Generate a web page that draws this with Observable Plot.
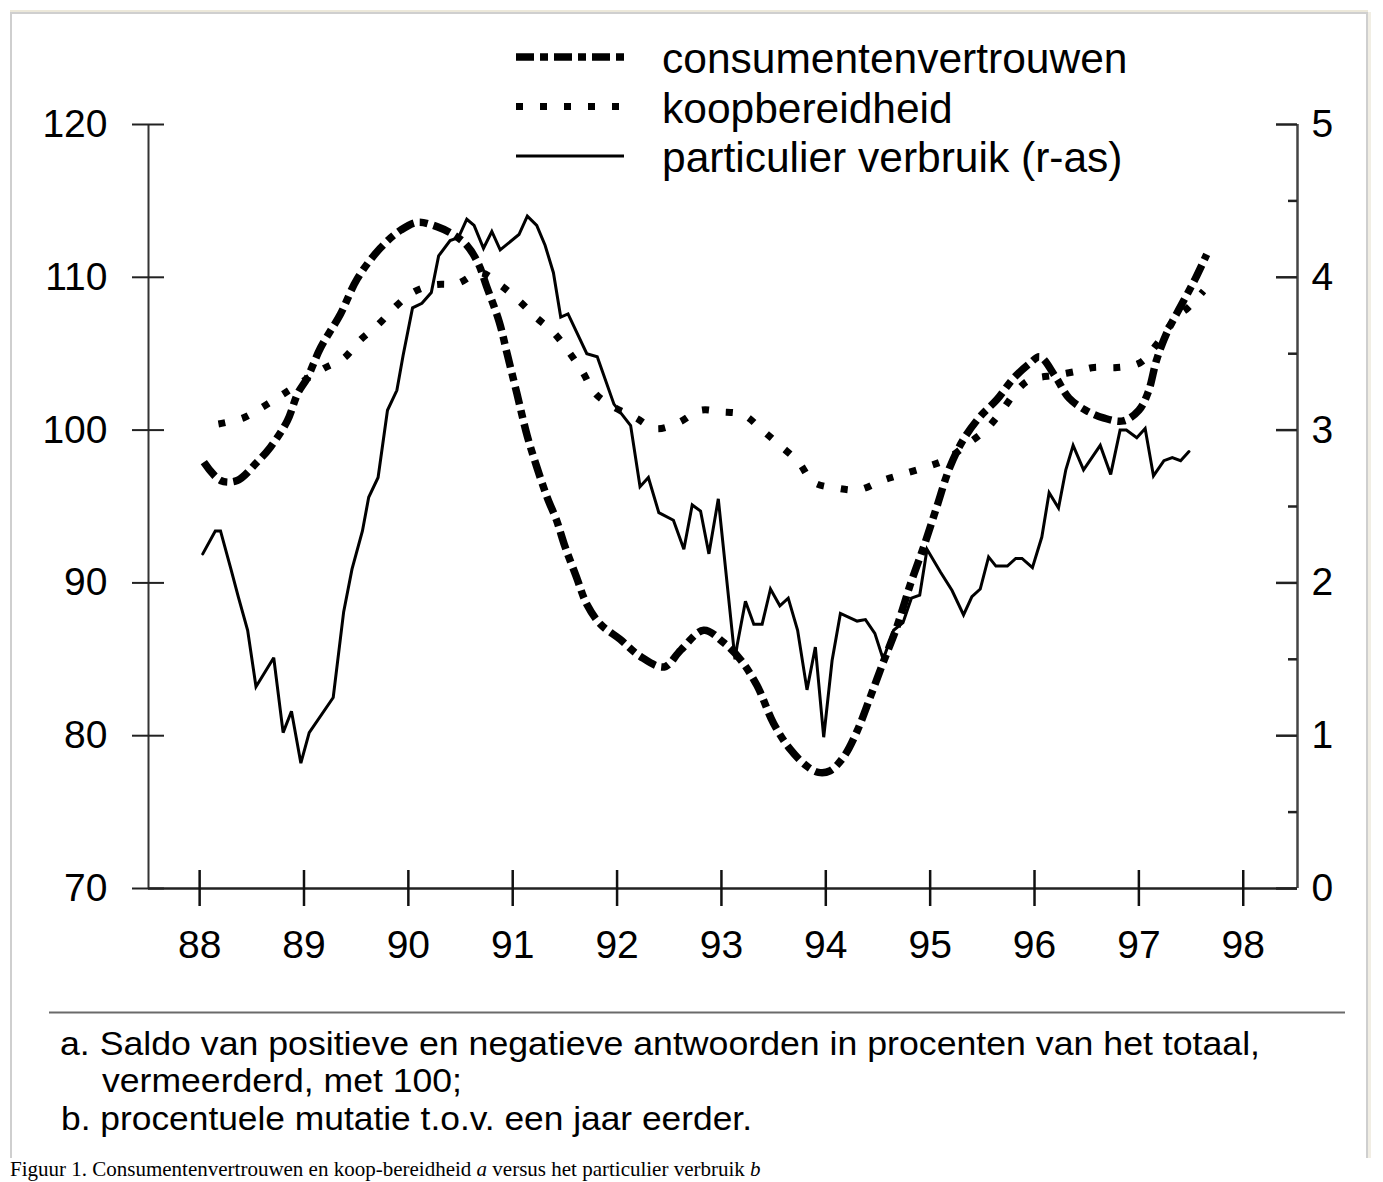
<!DOCTYPE html>
<html>
<head>
<meta charset="utf-8">
<script src="https://cdn.jsdelivr.net/npm/d3@7"></script>
<script src="https://cdn.jsdelivr.net/npm/@observablehq/plot@0.6"></script>
<style>
html, body { margin: 0; padding: 0; background: #fff; }
#page { position: relative; width: 1383px; height: 1182px; overflow: hidden; background: #fff;
        font-family: "Liberation Sans", Arial, Helvetica, sans-serif; color: #000; }
#frame { position: absolute; left: 10px; top: 12px; width: 1354px; height: 1144px;
         border: 2px solid #cfcfcf; border-bottom: none; box-shadow: 0 -2px 0 0 #ece8da, 3px 0 0 0 #f1eee4; }
#chart, #overlay { position: absolute; left: 0; top: 0; }
#caption { position: absolute; left: 10px; top: 1158px; white-space: nowrap;
           font-family: "Liberation Serif", "Times New Roman", serif; font-size: 21px; line-height: 22px; }
</style>
</head>
<body>
<div id="page">
  <div id="frame"></div>
  <div id="chart"></div>
  <svg id="overlay" width="1383" height="1156"></svg>
  <div id="caption">Figuur 1. Consumentenvertrouwen en koop-bereidheid <i>a</i> versus het particulier verbruik <i>b</i></div>
</div>
<script>
// ---------- DATA ----------
// consumentenvertrouwen (linker as)
const jaarVertrouwen = [88.04,88.20,88.36,88.55,88.68,88.84,88.94,89.03,89.16,89.35,89.51,89.73,89.93,90.09,90.28,90.43,90.56,90.67,90.75,90.87,90.95,91.04,91.14,91.23,91.33,91.42,91.50,91.61,91.71,91.84,92.03,92.22,92.45,92.61,92.83,93.02,93.18,93.34,93.50,93.66,93.82,93.93,94.04,94.17,94.30,94.43,94.55,94.68,94.81,94.94,95.06,95.19,95.32,95.48,95.64,95.80,95.96,96.05,96.20,96.33,96.49,96.66,96.85,97.00,97.09,97.17,97.27,97.40,97.54,97.65];
const consumentenvertrouwen = [97.9,96.7,96.7,97.9,98.9,100.6,102.4,103.4,105.4,107.6,109.9,111.9,113.1,113.6,113.3,112.8,112.1,110.9,109.4,107.1,104.9,102.4,99.6,97.6,95.6,94.1,92.4,90.4,88.6,87.3,86.3,85.2,84.5,85.6,86.9,86.1,85.0,83.3,80.8,79.1,78.0,77.6,77.7,78.6,80.3,82.6,84.8,87.1,89.9,92.4,94.9,97.6,99.4,100.9,102.0,103.4,104.4,104.8,103.5,102.1,101.3,100.8,100.6,101.3,102.5,104.6,106.4,108.1,109.9,111.5];

// koopbereidheid (linker as)
const jaarKoop = [88.18,88.42,88.60,88.81,89.18,89.38,89.54,89.71,89.88,90.04,90.24,90.47,90.69,90.88,91.07,91.22,91.39,91.54,91.67,91.79,91.97,92.18,92.37,92.59,92.80,92.99,93.21,93.39,93.56,93.74,93.88,94.11,94.32,94.54,94.73,94.97,95.16,95.34,95.53,95.69,95.82,95.93,96.01,96.21,96.44,96.57,96.79,97.01,97.17,97.36,97.47,97.62];
const koopbereidheid = [100.4,100.8,101.5,102.4,104.0,104.7,105.9,106.9,108.1,109.0,109.5,109.6,110.3,109.5,108.4,107.4,106.4,105.1,103.8,102.4,101.5,100.8,100.1,100.5,101.3,101.2,101.0,100.0,99.0,97.9,96.6,96.2,96.1,96.7,97.1,97.6,98.1,99.0,100.0,101.3,102.5,103.2,103.4,103.6,103.9,104.1,104.1,104.4,105.6,107.4,108.0,109.1];

// particulier verbruik, % mutatie (rechter as)
const jaarVerbruik = [88.03,88.15,88.20,88.30,88.37,88.46,88.54,88.71,88.80,88.88,88.97,89.05,89.28,89.38,89.46,89.56,89.62,89.71,89.80,89.89,89.95,90.04,90.13,90.22,90.29,90.40,90.48,90.56,90.63,90.72,90.80,90.88,91.06,91.14,91.23,91.31,91.39,91.46,91.53,91.71,91.81,91.97,92.13,92.22,92.30,92.40,92.54,92.64,92.72,92.80,92.88,92.97,93.13,93.15,93.23,93.31,93.39,93.47,93.56,93.64,93.73,93.82,93.90,93.98,94.06,94.14,94.30,94.38,94.47,94.55,94.65,94.74,94.82,94.90,94.97,95.10,95.21,95.32,95.40,95.48,95.56,95.63,95.74,95.82,95.88,95.98,96.07,96.14,96.23,96.30,96.37,96.47,96.63,96.73,96.82,96.88,96.98,97.06,97.14,97.24,97.32,97.40,97.48];
const particulierVerbruik = [2.19,2.34,2.34,2.09,1.91,1.69,1.32,1.51,1.02,1.16,0.82,1.02,1.25,1.81,2.09,2.34,2.56,2.69,3.13,3.26,3.49,3.80,3.83,3.90,4.14,4.24,4.26,4.38,4.34,4.19,4.30,4.18,4.28,4.40,4.34,4.21,4.03,3.74,3.76,3.50,3.48,3.17,3.03,2.63,2.69,2.46,2.41,2.22,2.51,2.47,2.19,2.55,1.50,1.59,1.88,1.73,1.73,1.96,1.85,1.90,1.69,1.30,1.58,0.99,1.49,1.80,1.75,1.76,1.67,1.50,1.69,1.74,1.90,1.92,2.22,2.07,1.95,1.79,1.91,1.96,2.17,2.11,2.11,2.16,2.16,2.10,2.30,2.59,2.49,2.74,2.90,2.74,2.90,2.71,3.00,3.00,2.95,3.01,2.70,2.80,2.82,2.80,2.86];

// axes
const xTicks = [88, 89, 90, 91, 92, 93, 94, 95, 96, 97, 98];
const yTicksLinks = [70, 80, 90, 100, 110, 120];
const yTicksRechts = [0, 1, 2, 3, 4, 5];
const yMinorRechts = [0.5, 1.5, 2.5, 3.5, 4.5];

// texts
const legendNamen = ["consumentenvertrouwen", "koopbereidheid", "particulier verbruik (r-as)"];
const voetnoten = [
  "a. Saldo van positieve en negatieve antwoorden in procenten van het totaal,",
  "vermeerderd, met 100;",
  "b. procentuele mutatie t.o.v. een jaar eerder."
];

// ---------- STYLES ----------
const stijlen = [
  {strokeWidth: 7.5, dash: "18,6,8,6"},
  {strokeWidth: 7, dash: "7,17"},
  {strokeWidth: 3, dash: null}
];
const fontFam = '"Liberation Sans", Arial, Helvetica, sans-serif';

// right axis 0..5 maps onto left axis 70..120
const rechtsNaarLinks = r => 70 + 10 * r;

const vertrouwenData = d3.zip(jaarVertrouwen, consumentenvertrouwen).map(([t, v]) => ({t, v}));
const koopData = d3.zip(jaarKoop, koopbereidheid).map(([t, v]) => ({t, v}));
const verbruikData = d3.zip(jaarVerbruik, particulierVerbruik).map(([t, r]) => ({t, v: rechtsNaarLinks(r)}));

const xDomain = [87.51, 98.52];
const yDomain = [70, 120];

const chart = Plot.plot({
  width: 1383,
  height: 990,
  marginTop: 124,
  marginBottom: 102,
  marginLeft: 148,
  marginRight: 86,
  x: {domain: xDomain, axis: null},
  y: {domain: yDomain, axis: null},
  style: {fontFamily: fontFam, fontSize: "39px", color: "#000", background: "transparent", overflow: "visible"},
  marks: [
    // axis lines
    Plot.ruleY([yDomain[0]], {stroke: "#222", strokeWidth: 2.5}),
    Plot.ruleX([xDomain[0]], {y1: yDomain[0], y2: yDomain[1], stroke: "#333", strokeWidth: 2}),
    Plot.ruleX([xDomain[1]], {y1: yDomain[0], y2: yDomain[1], stroke: "#444", strokeWidth: 2.5}),
    // x axis ticks (crossing the axis) and labels
    Plot.ruleX(xTicks, {x: d => d, y1: yDomain[0], y2: yDomain[0], insetTop: -18, insetBottom: -18, stroke: "#111", strokeWidth: 2.5}),
    Plot.text(xTicks, {x: d => d, y: yDomain[0], dy: 57, text: d => String(d), fontSize: 39, fill: "#000"}),
    // left axis (ticks crossing the axis)
    Plot.ruleY(yTicksLinks, {y: d => d, x1: xDomain[0], x2: xDomain[0], insetLeft: -16, insetRight: -16, stroke: "#222", strokeWidth: 2}),
    Plot.text(yTicksLinks, {x: xDomain[0], y: d => d, dx: -41, textAnchor: "end", text: d => String(d), fontSize: 39, fill: "#000"}),
    // right axis (inward ticks)
    Plot.ruleY(yTicksRechts, {y: rechtsNaarLinks, x1: xDomain[1], x2: xDomain[1], insetLeft: -21, insetRight: 0, stroke: "#222", strokeWidth: 2.5}),
    Plot.ruleY(yMinorRechts, {y: rechtsNaarLinks, x1: xDomain[1], x2: xDomain[1], insetLeft: -9, insetRight: 0, stroke: "#222", strokeWidth: 2.5}),
    Plot.text(yTicksRechts, {x: xDomain[1], y: rechtsNaarLinks, dx: 14, textAnchor: "start", text: d => String(d), fontSize: 39, fill: "#000"}),
    // series
    Plot.line(verbruikData, {x: "t", y: "v", stroke: "#000", strokeWidth: stijlen[2].strokeWidth, strokeLinejoin: "miter", strokeMiterlimit: 3}),
    Plot.line(koopData, {x: "t", y: "v", stroke: "#000", strokeWidth: stijlen[1].strokeWidth, strokeDasharray: stijlen[1].dash, strokeLinecap: "butt", curve: "catmull-rom"}),
    Plot.line(vertrouwenData, {x: "t", y: "v", stroke: "#000", strokeWidth: stijlen[0].strokeWidth, strokeDasharray: stijlen[0].dash, strokeLinecap: "butt", curve: "catmull-rom"})
  ]
});
document.getElementById("chart").appendChild(chart);

// ---------- LEGEND + FOOTNOTES overlay ----------
const ov = d3.select("#overlay");
const leg = ov.append("g").attr("transform", "translate(516,57)");
legendNamen.forEach((naam, i) => {
  const row = leg.append("g").attr("transform", `translate(0,${i * 49.5})`);
  row.append("line").attr("x1", 0).attr("x2", 108).attr("y1", 0).attr("y2", 0)
    .attr("stroke", "#000").attr("stroke-width", stijlen[i].strokeWidth)
    .attr("stroke-dasharray", stijlen[i].dash).attr("stroke-linecap", "butt");
  row.append("text").attr("x", 146).attr("y", 16)
    .attr("font-family", fontFam).attr("font-size", 42.5).attr("fill", "#000").text(naam);
});

const notes = ov.append("g");
notes.append("line").attr("x1", 49).attr("x2", 1345).attr("y1", 1012.5).attr("y2", 1012.5)
  .attr("stroke", "#6a6a6a").attr("stroke-width", 2);
const noteLayout = [
  {x: 60, y: 1055, len: 1200},
  {x: 102, y: 1092, len: 360},
  {x: 61, y: 1130, len: 691}
];
voetnoten.forEach((t, i) => {
  notes.append("text").attr("x", noteLayout[i].x).attr("y", noteLayout[i].y)
    .attr("font-family", fontFam).attr("font-size", 33).attr("fill", "#000")
    .attr("textLength", noteLayout[i].len).attr("lengthAdjust", "spacingAndGlyphs")
    .text(t);
});
</script>
</body>
</html>
